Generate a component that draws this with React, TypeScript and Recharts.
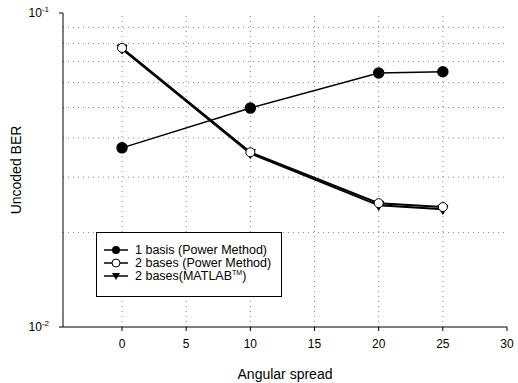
import { LineChart, Line, XAxis, YAxis, ReferenceLine, Legend } from "recharts";

const angles = [0, 10, 20, 25];
const oneBasisPower = [0.0372, 0.0498, 0.0644, 0.065];
const twoBasesPower = [0.0774, 0.036, 0.0248, 0.0241];
const twoBasesMatlab = [0.0768, 0.0357, 0.0244, 0.0237];

const xTicks = [0, 5, 10, 15, 20, 25, 30];
const yTicks = [0.01, 0.1];
const xGrid = [0, 5, 10, 15, 20, 25];
const yGrid = [0.02, 0.03, 0.04, 0.05, 0.06, 0.07, 0.08, 0.09];

const data = angles.map((a, i) => ({
  angle: a,
  s1: oneBasisPower[i],
  s2: twoBasesPower[i],
  s3: twoBasesMatlab[i],
}));

const FONT = "'Liberation Sans', Arial, sans-serif";

const TriangleDot = (props: any) => {
  const { cx, cy } = props;
  if (cx == null || cy == null) return null;
  return (
    <polygon
      points={`${cx - 5},${cy - 4} ${cx + 5},${cy - 4} ${cx},${cy + 5}`}
      fill="#000"
      stroke="#000"
    />
  );
};

const YTick = (props: any) => {
  const { x, y, payload } = props;
  const exp = Math.round(Math.log10(payload.value));
  return (
    <text x={x - 8} y={y + 4} textAnchor="end" fontFamily={FONT} fontSize={12} fill="#000">
      10
      <tspan dy={-5} fontSize={8}>{exp}</tspan>
    </text>
  );
};

const LegendBox = () => {
  const rows = [
    { label: "1 basis (Power Method)", kind: "filled" },
    { label: "2 bases (Power Method)", kind: "open" },
    { label: "2 bases(MATLAB", kind: "tri" },
  ];
  return (
    <div
      style={{
        border: "1px solid #000",
        background: "#fff",
        padding: "10px 0 0 6px",
        height: 65,
        boxSizing: "border-box",
        fontFamily: FONT,
        fontSize: 12.5,
        color: "#000",
      }}
    >
      {rows.map((r, i) => (
        <div key={i} style={{ display: "flex", alignItems: "center", height: 13, whiteSpace: "nowrap" }}>
          <svg width={28} height={12} style={{ marginRight: 4 }}>
            <line x1={1} y1={6} x2={25} y2={6} stroke="#000" strokeWidth={1.5} />
            {r.kind === "filled" && <circle cx={13} cy={6} r={4} fill="#000" />}
            {r.kind === "open" && <circle cx={13} cy={6} r={4} fill="#fff" stroke="#000" />}
            {r.kind === "tri" && <polygon points="9,3 17,3 13,10" fill="#000" />}
          </svg>
          <span>
            {r.label}
            {r.kind === "tri" && (
              <>
                <span style={{ fontSize: 7, position: "relative", top: -5 }}>TM</span>)
              </>
            )}
          </span>
        </div>
      ))}
    </div>
  );
};

export default function App() {
  return (
    <div style={{ position: "absolute", left: 0, top: 0, width: 518, height: 383, background: "#fff" }}>
      <LineChart
        width={518}
        height={383}
        data={data}
        margin={{ top: 13, right: 11, left: 18, bottom: 26 }}
      >
        {xGrid.map((v) => (
          <ReferenceLine key={"x" + v} x={v} stroke="#888" strokeDasharray="1 4" />
        ))}
        {yGrid.map((v) => (
          <ReferenceLine key={"y" + v} y={v} stroke="#888" strokeDasharray="1 4" />
        ))}
        <XAxis
          dataKey="angle"
          type="number"
          domain={[-4.6, 30]}
          ticks={xTicks}
          allowDataOverflow
          height={30}
          tickSize={4}
          stroke="#000"
          tick={{ fill: "#000", fontSize: 12, fontFamily: FONT, dy: 6 }}
          label={{
            value: "Angular spread",
            position: "insideBottom",
            offset: -22,
            fill: "#000",
            fontSize: 14,
            fontFamily: FONT,
          }}
        />
        <XAxis xAxisId="top" orientation="top" type="number" domain={[-4.6, 30]} tick={false} tickLine={false} height={0} stroke="#000" />
        <YAxis
          scale="log"
          type="number"
          domain={[0.01, 0.1]}
          ticks={yTicks}
          allowDataOverflow
          width={45}
          tickSize={4}
          stroke="#000"
          tick={<YTick />}
          label={{
            value: "Uncoded BER",
            angle: -90,
            position: "insideLeft",
            offset: -2,
            fill: "#000",
            fontSize: 14,
            fontFamily: FONT,
            style: { textAnchor: "middle" },
          }}
        />
        <YAxis yAxisId="right" orientation="right" tick={false} tickLine={false} width={0} stroke="#000" />
        <Legend
          layout="horizontal"
          verticalAlign="middle"
          align="center"
          content={<LegendBox />}
          wrapperStyle={{ left: 96, top: 232, width: 186, height: 65 }}
        />
        <Line
          dataKey="s1"
          name="1 basis (Power Method)"
          stroke="#000"
          strokeWidth={1.5}
          dot={{ r: 5, fill: "#000", stroke: "#000" }}
          isAnimationActive={false}
        />
        <Line
          dataKey="s3"
          name="2 bases(MATLAB)"
          stroke="#000"
          strokeWidth={2}
          dot={<TriangleDot />}
          isAnimationActive={false}
        />
        <Line
          dataKey="s2"
          name="2 bases (Power Method)"
          stroke="#000"
          strokeWidth={2}
          dot={{ r: 4.5, fill: "#fff", stroke: "#000", strokeWidth: 1 }}
          isAnimationActive={false}
        />
      </LineChart>
    </div>
  );
}
